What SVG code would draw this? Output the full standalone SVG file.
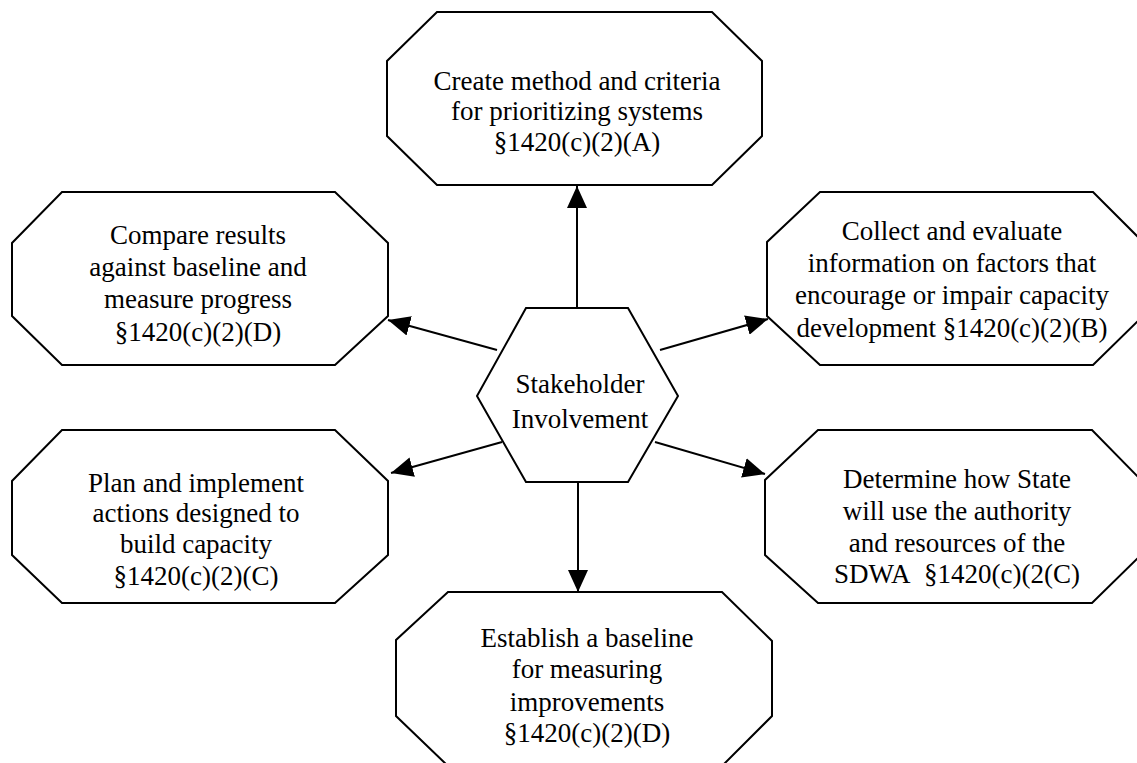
<svg xmlns="http://www.w3.org/2000/svg" width="1137" height="763" viewBox="0 0 1137 763">
<style>
.shape{fill:#fff;stroke:#000;stroke-width:2;stroke-linejoin:miter}
.lbl{font-family:"Liberation Serif","Times New Roman",serif;font-size:27px;fill:#000;text-anchor:middle}
.conn{stroke:#000;stroke-width:2;fill:none}
</style>
<defs>
<marker id="ah" markerUnits="userSpaceOnUse" markerWidth="22" markerHeight="20" refX="22" refY="10" orient="auto" viewBox="0 0 22 20">
<path d="M0,0 L22,10 L0,20 Z" fill="#000"/>
</marker>
</defs>
<rect width="1137" height="763" fill="#fff"/>
<g id="top">
<polygon class="shape" points="437,12 712,12 762,61 762,136 712,185 437,185 387,136 387,61"/>
<text class="lbl" x="577" y="90">Create method and criteria</text>
<text class="lbl" x="577" y="120">for prioritizing systems</text>
<text class="lbl" x="577" y="151">§1420(c)(2)(A)</text>
</g>
<g id="compare">
<polygon class="shape" points="62,192 335,192 388,243 388,316 335,365 62,365 12,316 12,243"/>
<text class="lbl" x="198" y="244">Compare results</text>
<text class="lbl" x="198" y="276">against baseline and</text>
<text class="lbl" x="198" y="308">measure progress</text>
<text class="lbl" x="198" y="341">§1420(c)(2)(D)</text>
</g>
<g id="collect">
<polygon class="shape" points="820,192 1093,192 1143,242 1143,316 1093,365 820,365 767,316 767,242"/>
<text class="lbl" x="952" y="240">Collect and evaluate</text>
<text class="lbl" x="952" y="272">information on factors that</text>
<text class="lbl" x="952" y="304">encourage or impair capacity</text>
<text class="lbl" x="952" y="337">development §1420(c)(2)(B)</text>
</g>
<g id="plan">
<polygon class="shape" points="62,430 335,430 388,481 388,555 335,603 62,603 12,555 12,481"/>
<text class="lbl" x="196" y="492">Plan and implement</text>
<text class="lbl" x="196" y="522">actions designed to</text>
<text class="lbl" x="196" y="553">build capacity</text>
<text class="lbl" x="196" y="585">§1420(c)(2)(C)</text>
</g>
<g id="determine">
<polygon class="shape" points="818,430 1092,430 1141,480 1141,555 1092,603 818,603 765,555 765,480"/>
<text class="lbl" x="957" y="488">Determine how State</text>
<text class="lbl" x="957" y="520">will use the authority</text>
<text class="lbl" x="957" y="552">and resources of the</text>
<text class="lbl" x="957" y="583">SDWA&#160; §1420(c)(2(C)</text>
</g>
<g id="baseline">
<polygon class="shape" points="448,592 722,592 772,641 772,716 722,766 448,766 396,716 396,640"/>
<text class="lbl" x="587" y="647">Establish a baseline</text>
<text class="lbl" x="587" y="678">for measuring</text>
<text class="lbl" x="587" y="711">improvements</text>
<text class="lbl" x="587" y="742">§1420(c)(2)(D)</text>
</g>
<g id="stakeholder">
<polygon class="shape" points="526,308 628,308 678,396 628,482 526,482 477,396"/>
<text class="lbl" x="580" y="393">Stakeholder</text>
<text class="lbl" x="580" y="428">Involvement</text>
</g>
<g id="connectors">
<line class="conn" x1="577" y1="307" x2="577" y2="186" marker-end="url(#ah)"/>
<line class="conn" x1="497" y1="350" x2="388" y2="320" marker-end="url(#ah)"/>
<line class="conn" x1="660" y1="350" x2="768" y2="319" marker-end="url(#ah)"/>
<line class="conn" x1="502" y1="442" x2="391" y2="473" marker-end="url(#ah)"/>
<line class="conn" x1="655" y1="442" x2="765" y2="474" marker-end="url(#ah)"/>
<line class="conn" x1="578" y1="483" x2="578" y2="592" marker-end="url(#ah)"/>
</g>
</svg>
